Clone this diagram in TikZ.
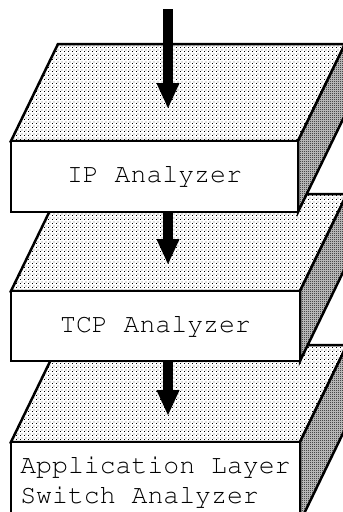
\documentclass[tikz,border=0pt]{standalone}
\usepackage[T1]{fontenc}
\usetikzlibrary{arrows.meta,patterns}

% fine stipple for the top faces
\pgfdeclarepatternformonly{stipple}{\pgfpointorigin}{\pgfqpoint{4pt}{4pt}}{\pgfqpoint{4pt}{4pt}}{%
  \pgfpathrectangle{\pgfqpoint{0pt}{0pt}}{\pgfqpoint{1pt}{1pt}}%
  \pgfpathrectangle{\pgfqpoint{2pt}{2pt}}{\pgfqpoint{1pt}{1pt}}%
  \pgfusepath{fill}}
% dense checker for the side faces
\pgfdeclarepatternformonly{checker}{\pgfpointorigin}{\pgfqpoint{2pt}{2pt}}{\pgfqpoint{2pt}{2pt}}{%
  \pgfpathrectangle{\pgfqpoint{0pt}{0pt}}{\pgfqpoint{1pt}{1pt}}%
  \pgfpathrectangle{\pgfqpoint{1pt}{1pt}}{\pgfqpoint{1pt}{1pt}}%
  \pgfusepath{fill}}

% top and side faces of one slab: #1 right edge, #2 top, #3 bottom of the front face
\newcommand\slabfaces[3]{%
  \draw[topface] (11,#2) -- (58,{#2-97}) -- ({#1+47},{#2-97}) -- (#1,#2) -- cycle;
  \draw[sideface] (#1,#2) -- ({#1+47},{#2-97}) -- ({#1+47},{#3-97}) -- (#1,#3) -- cycle;
}

\begin{document}
\begin{tikzpicture}[x=1pt,y=-1pt,
  edge/.style={line width=2.5pt, line join=miter},
  topface/.style={edge, preaction={fill=white}, pattern=stipple},
  sideface/.style={edge, preaction={fill=black!18}, pattern=checker},
  front/.style={edge, draw, fill=white, rectangle, inner sep=0pt, outer sep=0pt,
    anchor=north west, font=\fontencoding{T1}\fontfamily{pcr}\fontsize{26.5}{29.5}\selectfont},
  flow/.style={line width=10pt, line cap=butt, -{Triangle[length=26pt,width=21pt]}},
]
\useasboundingbox (0,0) rectangle (343,512);
\clip (0,0) rectangle (343,512);

% bottom slab
\slabfaces{300}{442}{522}
\node[front, minimum width=289pt, minimum height=80pt, align=left] (app) at (11,442)
  {Application Layer\\Switch Analyzer};

% middle slab
\slabfaces{300}{291}{361}
\node[front, minimum width=289pt, minimum height=70pt] (tcp) at (11,291) {TCP Analyzer};

% top slab
\slabfaces{298}{141}{212}
\node[front, minimum width=287pt, minimum height=71pt] (ip) at (11,141) {IP Analyzer};

% data flow
\coordinate (src) at (168,9);
\coordinate (ipin) at (168,109);
\coordinate (tcpin) at (168,265);
\coordinate (appin) at (168,416);
\draw[flow] (src) -- (ipin);
\draw[flow] (ip.south -| src) -- (tcpin);
\draw[flow] (tcp.south -| src) -- (appin);
\end{tikzpicture}
\end{document}
